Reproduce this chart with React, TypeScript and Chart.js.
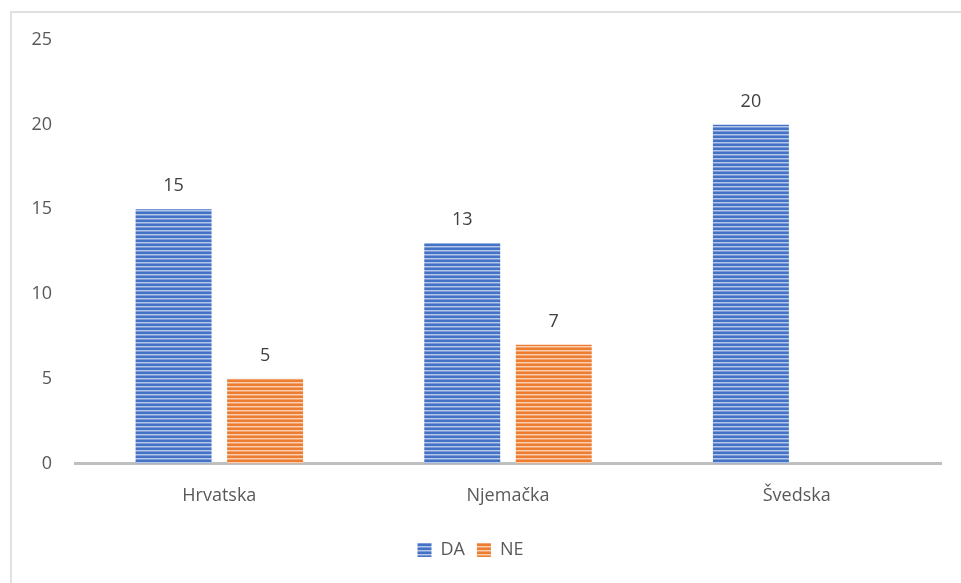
import React, { useEffect, useRef } from "react";
import { Chart, registerables } from "chart.js";

Chart.register(...registerables);

const categories = ["Hrvatska", "Njemačka", "Švedska"];
const daValues = [15, 13, 20];
const neValues = [5, 7, 0];
const yTicks = [0, 5, 10, 15, 20, 25];

function makeStripes(dark: string, light: string, mid: string) {
  const c = document.createElement("canvas");
  c.width = 4;
  c.height = 4;
  const ctx = c.getContext("2d")!;
  ctx.fillStyle = dark;
  ctx.fillRect(0, 0, 4, 2);
  ctx.fillStyle = light;
  ctx.fillRect(0, 2, 4, 1);
  ctx.fillStyle = mid;
  ctx.fillRect(0, 3, 4, 1);
  return document.createElement("canvas").getContext("2d")!.createPattern(c, "repeat")!;
}

const FONT = "'Open Sans', 'Noto Sans', sans-serif";

export default function App() {
  const ref = useRef<HTMLCanvasElement>(null);
  useEffect(() => {
    const blue = makeStripes("#4472C4", "#b4c6ea", "#7b9bd6");
    const orange = makeStripes("#ED7D31", "#f9cdae", "#f2a470");
    const labelPlugin = {
      id: "valueLabels",
      afterDatasetsDraw(chart: any) {
        const ctx = chart.ctx;
        ctx.save();
        ctx.fillStyle = "#404040";
        ctx.font = `18px ${FONT}`;
        ctx.textAlign = "center";
        ctx.textBaseline = "alphabetic";
        chart.data.datasets.forEach((ds: any, i: number) => {
          const meta = chart.getDatasetMeta(i);
          meta.data.forEach((el: any, j: number) => {
            const v = ds.data[j];
            if (!v) return;
            ctx.fillText(String(v), el.x, el.y - 18);
          });
        });
        ctx.restore();
      },
    };
    const chart = new Chart(ref.current!, {
      type: "bar",
      data: {
        labels: categories,
        datasets: [
          { label: "DA", data: daValues, backgroundColor: blue, borderWidth: 0 },
          { label: "NE", data: neValues, backgroundColor: orange, borderWidth: 0 },
        ],
      },
      options: {
        animation: false,
        responsive: false,
        devicePixelRatio: 1,
        categoryPercentage: 0.634,
        barPercentage: 0.83,
        layout: { padding: { left: 0, right: 20, top: 40, bottom: 14 } },
        plugins: {
          legend: {
            position: "bottom",
            labels: {
              boxWidth: 14,
              boxHeight: 14,
              padding: 12,
              color: "#595959",
              font: { family: FONT, size: 18 },
            },
          },
          tooltip: { enabled: false },
        },
        scales: {
          x: {
            grid: { display: false, drawTicks: false },
            border: { color: "#bfbfbf", width: 3 },
            ticks: { color: "#595959", font: { family: FONT, size: 18 }, padding: 22 },
          },
          y: {
            min: 0,
            max: 25,
            afterFit: (s: any) => { s.width = 75; },
            afterBuildTicks: (s: any) => { s.ticks = yTicks.map((v) => ({ value: v })); },
            grid: { display: false, drawTicks: false },
            border: { display: false },
            ticks: { color: "#595959", font: { family: FONT, size: 18 }, padding: 23 },
          },
        },
      },
      plugins: [labelPlugin],
    });
    return () => chart.destroy();
  }, []);
  return (
    <div style={{ position: "fixed", left: 0, top: 0, width: 961, height: 583, background: "#fff", overflow: "hidden" }}>
      <div style={{ position: "absolute", left: 10, top: 11, right: -10, bottom: -10, borderLeft: "2px solid #e0e0e0", borderTop: "2px solid #e0e0e0" }} />
      <canvas ref={ref} width={961} height={583} style={{ position: "absolute", left: 0, top: 0 }} />
    </div>
  );
}
